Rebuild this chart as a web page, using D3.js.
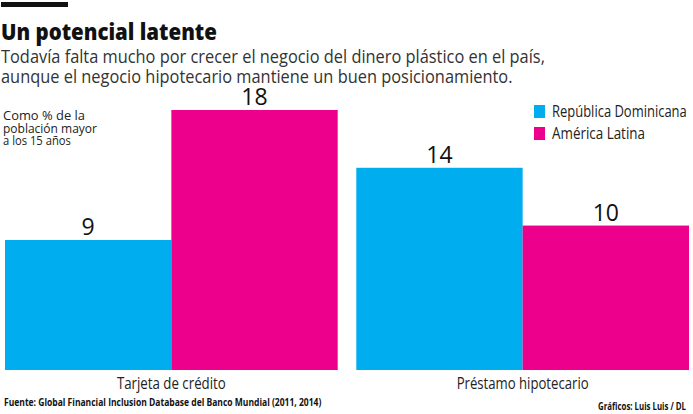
<!DOCTYPE html>
<html><head><meta charset="utf-8">
<script src="https://cdn.jsdelivr.net/npm/d3@7"></script>
<style>body{margin:0;background:#fff}svg{display:block}</style>
</head><body>
<svg id="c" width="693" height="414"></svg>
<script>
const categories = ["Tarjeta de crédito", "Préstamo hipotecario"];
const seriesNames = ["República Dominicana", "América Latina"];
const repDominicana = [9, 14];
const americaLatina = [18, 10];
const colors = ["#00AEEF", "#EC008C"];
const title = "Un potencial latente";
const subtitle = ["Todavía falta mucho por crecer el negocio del dinero plástico en el país,",
                  "aunque el negocio hipotecario mantiene un buen posicionamiento."];
const note = ["Como % de la", "población mayor", "a los 15 años"];
const source = "Fuente: Global Financial Inclusion Database  del Banco Mundial (2011, 2014)";
const credit = "Gráficos: Luis Luis / DL";

const svg = d3.select("#c");
const font = "'Open Sans', 'Noto Sans', sans-serif";

// text placed inside a group, squeezed horizontally to a target width
function ctext(parent, x, y, str, opts, w) {
  const g = parent.append("g").attr("transform", `translate(${x},${y})`);
  const t = g.append("text").attr("font-family", font)
    .attr("font-size", opts.size).attr("font-weight", opts.weight || 400)
    .attr("fill", opts.fill || "#222").attr("text-anchor", opts.anchor || "start")
    .attr("letter-spacing", opts.ls || 0).text(str);
  if (w) {
    const k = w / t.node().getComputedTextLength();
    t.attr("transform", `scale(${k.toFixed(3)},1)`);
  }
  return t;
}

svg.append("rect").attr("x", 1).attr("y", 2).attr("width", 67).attr("height", 5).attr("fill", "#111");
ctext(svg, 1, 40, title, {size: 22, weight: 800, fill: "#111"}, 216);
const subW = [544, 512];
subtitle.forEach((s, i) => ctext(svg, 1, 63 + i * 20, s, {size: 17.5, weight: 400, fill: "#333"}, subW[i]));

const data = categories.map((c, i) => ({cat: c, vals: [repDominicana[i], americaLatina[i]]}));

const x0 = d3.scaleBand().domain(categories).range([5, 689]).paddingInner(0.053).paddingOuter(0);
const x1 = d3.scaleBand().domain(seriesNames).range([0, x0.bandwidth()]).padding(0);
const y = d3.scaleLinear().domain([0, 18]).range([370, 110]);

const g = svg.append("g").selectAll("g").data(data).join("g")
  .attr("transform", d => `translate(${x0(d.cat)},0)`);
g.selectAll("rect").data(d => d.vals.map((v, j) => ({v, s: seriesNames[j], j}))).join("rect")
  .attr("x", d => x1(d.s)).attr("y", d => y(d.v))
  .attr("width", x1.bandwidth()).attr("height", d => y(0) - y(d.v))
  .attr("fill", d => colors[d.j]);
g.selectAll("text.val").data(d => d.vals.map((v, j) => ({v, s: seriesNames[j]}))).join("text")
  .attr("class", "val")
  .attr("x", d => x1(d.s) + x1.bandwidth() / 2).attr("y", d => y(d.v) - 5)
  .attr("text-anchor", "middle").attr("font-family", font).attr("font-size", 23)
  .attr("font-weight", 500).attr("fill", "#111").text(d => d.v);

// category axis labels
const catW = [109, 132];
const xAxis = d3.axisBottom(x0).tickSize(0).tickPadding(0);
const ax = svg.append("g").attr("transform", "translate(0,389)").call(xAxis);
ax.select(".domain").remove();
ax.selectAll("text").attr("font-family", font).attr("font-weight", 400).attr("font-size", 16)
  .attr("fill", "#222").attr("dy", 0).attr("y", 0)
  .each(function(d, i) {
    const k = catW[i] / this.getComputedTextLength();
    d3.select(this).attr("transform", `scale(${k.toFixed(3)},1)`);
  });

// note
const noteW = [82, 94, 68];
note.forEach((t, i) => ctext(svg, 3, 120 + i * 12.5, t, {size: 12.5, fill: "#222"}, noteW[i]));

// legend
const legW = [135, 93];
seriesNames.forEach((s, i) => {
  svg.append("rect").attr("x", 534).attr("y", 105 + i * 22).attr("width", 11).attr("height", 13).attr("fill", colors[i]);
  ctext(svg, 552, 117 + i * 22, s, {size: 15.5, fill: "#222"}, legW[i]);
});

// footer
ctext(svg, 4, 406, source, {size: 10.5, weight: 700, fill: "#111"}, 318);
ctext(svg, 686, 410, credit, {size: 10.5, weight: 700, fill: "#111", anchor: "end"}, 88);
</script>
</body></html>
